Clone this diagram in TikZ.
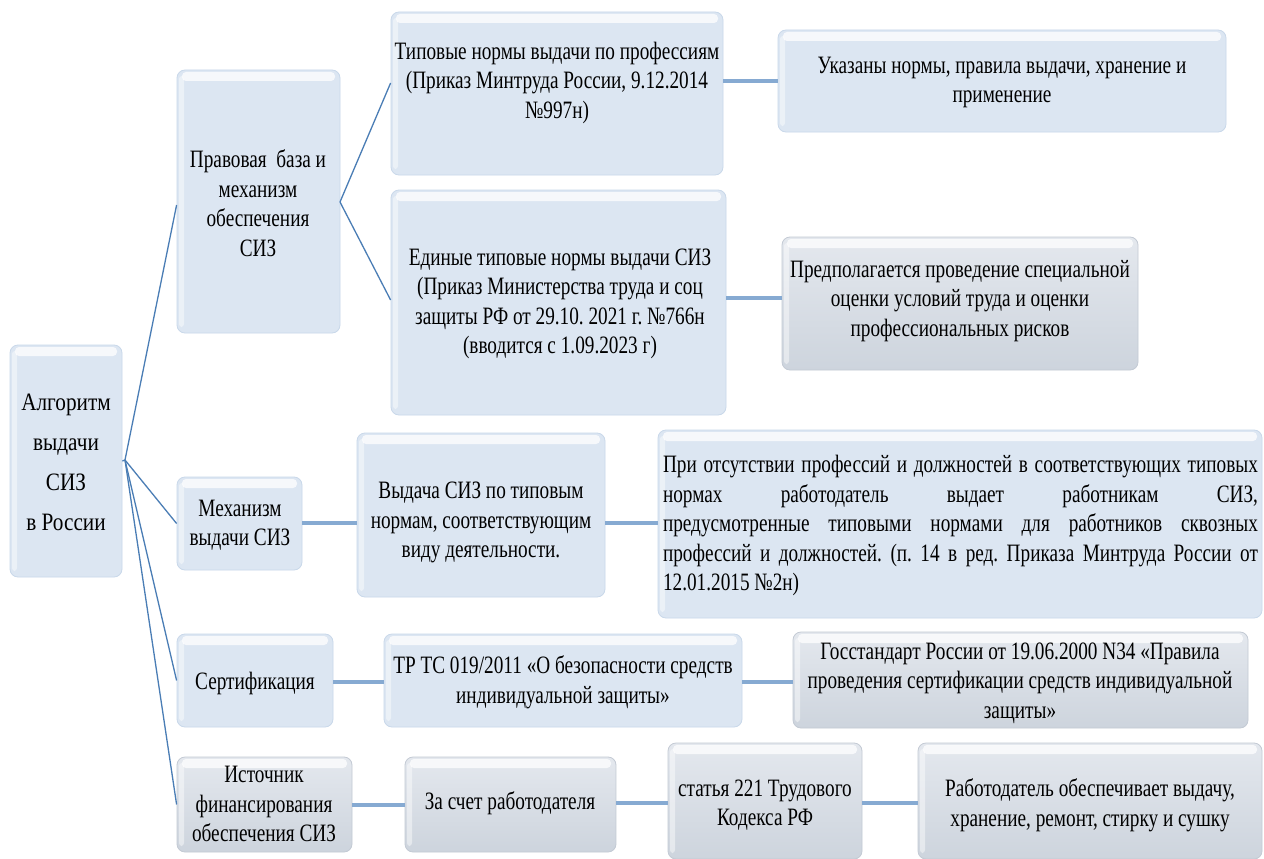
\documentclass[tikz,border=0pt]{standalone}
\usepackage{fontspec}
\setmainfont{Liberation Serif}[FakeStretch=0.77]
\newfontfamily\rootfont{Liberation Serif}[FakeStretch=0.85]
\usetikzlibrary{shadings}
\definecolor{boxblue}{HTML}{DCE6F2}
\definecolor{boxblueedge}{HTML}{C9D8EA}
\definecolor{boxgraytop}{HTML}{E4E8EE}
\definecolor{boxgraybot}{HTML}{CDD4DD}
\definecolor{boxgrayedge}{HTML}{C3CAD4}
\definecolor{linkdiag}{HTML}{4A7DB5}
\definecolor{linkhor}{HTML}{86AAD2}
\tikzset{
  boxbase/.style={rectangle, rounded corners=8pt, inner sep=0pt, line width=0.8pt,
    path picture={
      \fill[white, opacity=0.75, rounded corners=4pt]
        ([xshift=5pt,yshift=-2pt]path picture bounding box.north west) rectangle
        ([xshift=-5pt,yshift=-11pt]path picture bounding box.north east);
      \fill[white, opacity=0.45, rounded corners=3pt]
        ([xshift=2pt,yshift=-6pt]path picture bounding box.north west) rectangle
        ([xshift=7pt,yshift=6pt]path picture bounding box.south west);
    }},
  bluebox/.style={boxbase, fill=boxblue, draw=boxblueedge},
  graybox/.style={boxbase, top color=boxgraytop, bottom color=boxgraybot, draw=boxgrayedge},
  txt/.style={inner sep=0pt, align=center, font=\fontsize{25}{29.5}\selectfont\frenchspacing},
  roottxt/.style={inner sep=0pt, align=center, font=\rootfont\fontsize{25}{40}\selectfont},
  diag/.style={draw=linkdiag, line width=1.3pt},
  hor/.style={draw=linkhor, line width=4pt}
}
\newcommand{\bx}[6]{% style, name, x1, y1, x2, y2
  \node[#1, minimum width={(#5-#3)*1pt}, minimum height={(#6-#4)*1pt}] (#2) at ({(#3+#5)/2},{(#4+#6)/2}) {};}
\begin{document}
\begin{tikzpicture}[x=1pt,y=-1pt]
\useasboundingbox[fill=white] (0,0) rectangle (1264,859);
% boxes
\bx{bluebox}{root}{10}{345}{122}{577}
\bx{bluebox}{pravo}{177}{70}{340}{333}
\bx{bluebox}{tip}{391}{12}{723}{175}
\bx{bluebox}{ukaz}{778}{30}{1226}{132}
\bx{bluebox}{edin}{391}{190}{726}{415}
\bx{graybox}{predp}{782}{237}{1138}{370}
\bx{bluebox}{mekh}{177}{477}{302}{570}
\bx{bluebox}{vyd}{357}{433}{605}{597}
\bx{bluebox}{prio}{658}{430}{1262}{618}
\bx{bluebox}{sert}{177}{634}{333}{727}
\bx{bluebox}{trts}{384}{634}{742}{727}
\bx{graybox}{goss}{793}{632}{1248}{728}
\bx{graybox}{ist}{177}{757}{352}{852}
\bx{graybox}{zasch}{405}{757}{616}{852}
\bx{graybox}{stat}{668}{743}{862}{859}
\bx{graybox}{rab}{918}{743}{1262}{859}
% connectors
\coordinate (rootout) at (125,460);
\coordinate (pravoout) at (340,202);
\draw[diag] (root.east) -- (rootout);
\draw[diag] (rootout) -- (pravo.west |- 0,205);
\draw[diag] (rootout) -- (mekh.west);
\draw[diag] (rootout) -- (sert.west);
\draw[diag] (rootout) -- (ist.west);
\draw[diag] (pravoout) -- (tip.west |- 0,83);
\draw[diag] (pravoout) -- (edin.west |- 0,300);
\draw[hor] (tip.east |- 0,81) -- (ukaz.west |- 0,81);
\draw[hor] (edin.east |- 0,298) -- (predp.west |- 0,298);
\draw[hor] (mekh.east |- 0,523) -- (vyd.west |- 0,523);
\draw[hor] (vyd.east |- 0,523) -- (prio.west |- 0,523);
\draw[hor] (sert.east |- 0,682) -- (trts.west |- 0,682);
\draw[hor] (trts.east |- 0,682) -- (goss.west |- 0,682);
\draw[hor] (ist.east |- 0,805) -- (zasch.west |- 0,805);
\draw[hor] (zasch.east |- 0,803) -- (stat.west |- 0,803);
\draw[hor] (stat.east |- 0,803) -- (rab.west |- 0,803);
% texts
\node[roottxt] (troot) at (66,462) {Алгоритм\\выдачи\\СИЗ\\в России};
\node[txt] (tpravo) at (258,203) {Правовая\ \ база и\\механизм\\обеспечения\\СИЗ};
\node[txt] (ttip) at (557,82.5) {Типовые нормы выдачи по профессиям\\(Приказ Минтруда России, 9.12.2014\\№997н)};
\node[txt] (tukaz) at (1002,82.5) {Указаны нормы, правила выдачи, хранение и\\применение};
\node[txt] (tedin) at (560,304) {Единые типовые нормы выдачи СИЗ\\(Приказ Министерства труда и соц\\защиты РФ от 29.10. 2021 г. №766н\\(вводится с 1.09.2023 г)};
\node[txt] (tpredp) at (960,301) {Предполагается проведение специальной\\оценки условий труда и оценки\\профессиональных рисков};
\node[txt] (tmekh) at (240,525) {Механизм\\выдачи СИЗ};
\node[txt] (tvyd) at (481,522.5) {Выдача СИЗ по типовым\\нормам, соответствующим\\виду деятельности.};
\node[txt, align=left] (tprio) at (960.5,525.5) {%
\makebox[595pt][s]{При отсутствии профессий и должностей в соответствующих типовых}\\
\makebox[595pt][s]{нормах работодатель выдает работникам СИЗ,}\\
\makebox[595pt][s]{предусмотренные типовыми нормами для работников сквозных}\\
\makebox[595pt][s]{профессий и должностей. (п. 14 в ред. Приказа Минтруда России от}\\
\makebox[595pt][l]{12.01.2015 №2н)}};
\node[txt] (tsert) at (255,683) {Сертификация};
\node[txt] (ttrts) at (563,682) {ТР ТС 019/2011 «О безопасности средств\\индивидуальной защиты»};
\node[txt] (tgoss) at (1020,683) {Госстандарт России от 19.06.2000 N34 «Правила\\проведения сертификации средств индивидуальной\\защиты»};
\node[txt] (tist) at (264,804) {Источник\\финансирования\\обеспечения СИЗ};
\node[txt] (tzasch) at (510,803) {За счет работодателя};
\node[txt] (tstat) at (765,805) {статья 221 Трудового\\Кодекса РФ};
\node[txt] (trab) at (1090,805) {Работодатель обеспечивает выдачу,\\хранение, ремонт, стирку и сушку};
\end{tikzpicture}
\end{document}
